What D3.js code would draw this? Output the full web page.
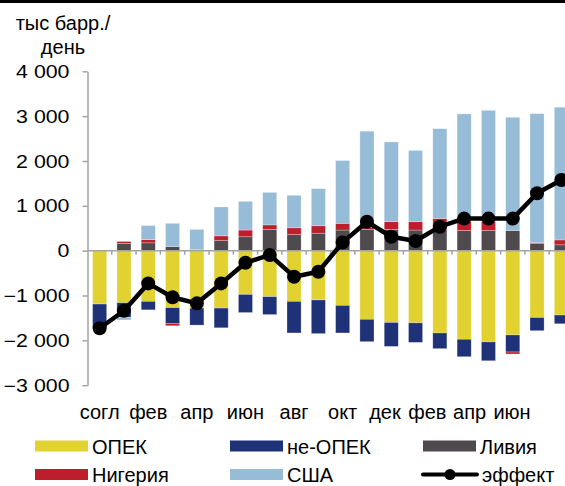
<!DOCTYPE html>
<html>
<head>
<meta charset="utf-8">
<script src="https://cdn.jsdelivr.net/npm/d3@7"></script>
<style>
  body { margin: 0; background: #fff; }
  svg { display: block; font-family: "Liberation Sans", Arial, sans-serif; }
</style>
</head>
<body>
<svg id="chart" width="565" height="486"></svg>
<script>
// months, from the OPEC+ deal onwards
var categories = ['согл', 'янв', 'фев', 'мар', 'апр', 'май', 'июн', 'июл', 'авг', 'сен',
                  'окт', 'ноя', 'дек', 'янв', 'фев', 'мар', 'апр', 'май', 'июн', 'июл'];

// тыс барр./день
var opec    = [-1190, -1160, -1130, -1270, -1280, -1280, -975, -1025, -1130, -1100,
               -1220, -1530, -1600, -1610, -1835, -1975, -2035, -1880, -1490, -1435];
var nonOpec = [-540, -325, -190, -350, -380, -440, -405, -400, -705, -750,
               -615, -500, -535, -435, -350, -390, -420, -380, -295, -195];
var libya   = [0, 160, 175, 90, 20, 225, 310, 475, 360, 390,
               460, 470, 475, 460, 480, 450, 450, 450, 165, 130];
var nigeria = [0, 45, 70, -55, 0, 105, 150, 100, 150, 165,
               150, 45, 170, 185, 240, 200, 200, -45, 15, 110];
var usa     = [0, -60, 315, 520, 455, 645, 640, 725, 725, 828,
               1400, 2150, 1780, 1590, 2000, 2400, 2480, 2525, 2875, 2960];
var effect  = [-1730, -1340, -730, -1040, -1175, -730, -270, -95, -580, -470,
               185, 645, 310, 215, 535, 715, 715, 715, 1280, 1575];

var yTicks = [-3000, -2000, -1000, 0, 1000, 2000, 3000, 4000];

var seriesNames = ['ОПЕК', 'не-ОПЕК', 'Ливия', 'Нигерия', 'США'];
var seriesValues = [opec, nonOpec, libya, nigeria, usa];
var colors = ['#e1d232', '#1f3278', '#4e4a4e', '#be1d2c', '#97bcd8'];

var svg = d3.select('#chart');
var axisColor = '#a3a3a3';

// black rule at the very top
svg.append('rect')
  .attr('x', 0).attr('y', 0)
  .attr('width', 565).attr('height', 3)
  .attr('fill', '#000');

var x = d3.scaleBand()
  .domain(d3.range(categories.length))
  .range([87.5, 573.5])
  .paddingInner(0.42)
  .paddingOuter(0.21);

var y = d3.scaleLinear()
  .domain([-3000, 4000])
  .range([385.2, 71.3]);

var rows = categories.map(function(c, i) {
  var r = {i: i};
  seriesNames.forEach(function(n, k) { r[n] = seriesValues[k][i]; });
  return r;
});

var stack = d3.stack()
  .keys(seriesNames)
  .offset(d3.stackOffsetDiverging);

var layers = stack(rows);

svg.append('g')
  .selectAll('g')
  .data(layers)
  .join('g')
    .attr('fill', function(d, k) { return colors[k]; })
  .selectAll('rect')
  .data(function(d) { return d.filter(function(p) { return p[1] !== p[0]; }); })
  .join('rect')
    .attr('x', function(p) { return x(p.data.i); })
    .attr('y', function(p) { return y(Math.max(p[0], p[1])); })
    .attr('width', x.bandwidth())
    .attr('height', function(p) { return Math.abs(y(p[0]) - y(p[1])); })
    .attr('stroke', '#fff')
    .attr('stroke-opacity', 0.45)
    .attr('stroke-width', 0.6);

// y axis
var fmt = function(v) { return d3.format(',')(v).replace(/,/g, ' '); };
var yAxis = svg.append('g')
  .attr('transform', 'translate(87.5,0)')
  .call(d3.axisLeft(y).tickValues(yTicks).tickFormat(fmt).tickSize(5).tickSizeOuter(0));
yAxis.select('.domain').attr('stroke', axisColor).attr('stroke-width', 1.5);
yAxis.selectAll('line').attr('stroke', axisColor).attr('stroke-width', 1.5);
yAxis.selectAll('text')
  .attr('x', 0)
  .attr('dy', '0.35em')
  .attr('transform', 'translate(-18,0) scale(1.22,1)')
  .attr('fill', '#000')
  .style('font-size', '17.5px');
yAxis.attr('font-family', null);

// x axis line at zero with ticks between bars
var step = x.step();
var xAxis = svg.append('g');
xAxis.append('line')
  .attr('x1', x.range()[0]).attr('x2', x.range()[1])
  .attr('y1', y(0)).attr('y2', y(0))
  .attr('stroke', axisColor)
  .attr('stroke-width', 1.5);
xAxis.selectAll('line.tick')
  .data(d3.range(1, categories.length))
  .join('line')
    .attr('class', 'tick')
    .attr('x1', function(i) { return x(i) - step * x.paddingInner() / 2; })
    .attr('x2', function(i) { return x(i) - step * x.paddingInner() / 2; })
    .attr('y1', y(0)).attr('y2', y(0) + 4)
    .attr('stroke', axisColor)
    .attr('stroke-width', 1.5);

// category labels, every second month; the right-hand ones sit a bit tighter
var shown = d3.range(0, categories.length, 2);
var labelX = d3.scaleLinear()
  .domain([0, 10, 18])
  .range([x(0) + x.bandwidth() / 2, x(10) + x.bandwidth() / 2, 512]);
svg.append('g')
  .selectAll('text')
  .data(shown)
  .join('text')
    .attr('x', function(i) { return labelX(i); })
    .attr('y', 419)
    .attr('text-anchor', 'middle')
    .style('font-size', '20px')
    .text(function(i) { return categories[i]; });

// effect line
var line = d3.line()
  .x(function(d, i) { return x(i) + x.bandwidth() / 2; })
  .y(function(d) { return y(d); });

svg.append('path')
  .datum(effect)
  .attr('d', line)
  .attr('fill', 'none')
  .attr('stroke', '#000')
  .attr('stroke-width', 4.5)
  .attr('stroke-linejoin', 'round');

svg.append('g')
  .selectAll('circle')
  .data(effect)
  .join('circle')
    .attr('cx', function(d, i) { return x(i) + x.bandwidth() / 2; })
    .attr('cy', function(d) { return y(d); })
    .attr('r', 7)
    .attr('fill', '#000');

// units title
var title = svg.append('text')
  .attr('text-anchor', 'middle')
  .style('font-size', '20px');
title.append('tspan').attr('x', 63).attr('y', 30).text('тыс барр./');
title.append('tspan').attr('x', 63).attr('y', 54).text('день');

// legend
var legendItems = [
  {name: 'ОПЕК', color: colors[0], col: 0, row: 0},
  {name: 'не-ОПЕК', color: colors[1], col: 1, row: 0},
  {name: 'Ливия', color: colors[2], col: 2, row: 0},
  {name: 'Нигерия', color: colors[3], col: 0, row: 1},
  {name: 'США', color: colors[4], col: 1, row: 1},
  {name: 'эффект', color: '#000', col: 2, row: 1, line: true}
];
var colX = [35, 230, 423];
var rowY = [446, 474.5];

var legend = svg.append('g')
  .selectAll('g')
  .data(legendItems)
  .join('g')
    .attr('transform', function(d) { return 'translate(' + colX[d.col] + ',' + rowY[d.row] + ')'; });

legend.filter(function(d) { return !d.line; })
  .append('rect')
    .attr('x', 0).attr('y', -5.5)
    .attr('width', 53).attr('height', 11)
    .attr('fill', function(d) { return d.color; });

var lg = legend.filter(function(d) { return d.line; });
lg.append('line')
  .attr('x1', 0).attr('x2', 54)
  .attr('y1', 0).attr('y2', 0)
  .attr('stroke', '#000')
  .attr('stroke-width', 4)
  .attr('stroke-linecap', 'round');
lg.append('circle')
  .attr('cx', 27).attr('cy', 0).attr('r', 5.5)
  .attr('fill', '#000');

legend.append('text')
  .attr('x', function(d) { return d.line ? 59 : 57; })
  .attr('y', 7.5)
  .style('font-size', '20px')
  .text(function(d) { return d.name; });
</script>
</body>
</html>
